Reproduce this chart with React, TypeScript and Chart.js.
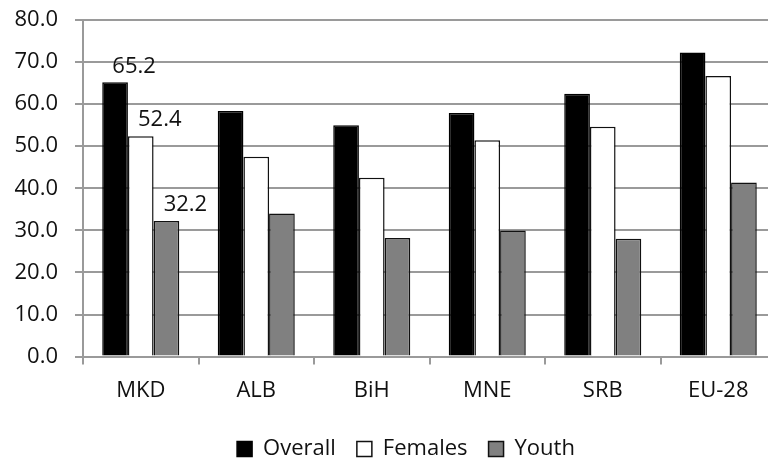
import React, { useEffect, useRef } from "react";
import { Chart, registerables } from "chart.js";

Chart.register(...registerables);

const categories = ["MKD", "ALB", "BiH", "MNE", "SRB", "EU-28"];
const overall = [65.2, 58.4, 55.0, 57.9, 62.5, 72.3];
const females = [52.4, 47.5, 42.5, 51.4, 54.6, 66.7];
const youth = [32.2, 34.0, 28.2, 30.0, 28.0, 41.4];
const seriesNames = ["Overall", "Females", "Youth"];
const yTicks = [0, 10, 20, 30, 40, 50, 60, 70, 80];
const annotatedCategory = 0;

const FONT = "'Open Sans', 'Noto Sans', sans-serif";

export default function App() {
  const ref = useRef<HTMLCanvasElement | null>(null);

  useEffect(() => {
    document.body.style.margin = "0";
    const canvas = ref.current;
    if (!canvas) return;

    const valueLabels = {
      id: "valueLabels",
      afterDatasetsDraw(chart: any) {
        const ctx = chart.ctx;
        ctx.save();
        ctx.font = `22px ${FONT}`;
        ctx.fillStyle = "#111";
        ctx.textAlign = "center";
        ctx.textBaseline = "middle";
        chart.data.datasets.forEach((ds: any, i: number) => {
          const meta = chart.getDatasetMeta(i);
          const el = meta.data[annotatedCategory];
          if (!el) return;
          const v = ds.data[annotatedCategory] as number;
          ctx.fillText(v.toFixed(1), el.x + 19, el.y - 16);
        });
        ctx.restore();
      },
    };

    const legendShift = {
      id: "legendShift",
      afterLayout(chart: any) {
        const lg = chart.legend;
        if (!lg) return;
        lg.left += 18;
        lg.right += 18;
      },
    };

    const chart = new Chart(canvas, {
      type: "bar",
      data: {
        labels: categories,
        datasets: [
          {
            label: seriesNames[0],
            data: overall,
            backgroundColor: "#000000",
            borderColor: "#000000",
            borderWidth: 1.5,
          },
          {
            label: seriesNames[1],
            data: females,
            backgroundColor: "#ffffff",
            borderColor: "#111111",
            borderWidth: 1.5,
          },
          {
            label: seriesNames[2],
            data: youth,
            backgroundColor: "#808080",
            borderColor: "#111111",
            borderWidth: 1.5,
          },
        ],
      },
      options: {
        responsive: false,
        animation: false,
        devicePixelRatio: 1,
        layout: { padding: { left: 0, top: 20, right: 35, bottom: -9 } },
        datasets: {
          bar: { categoryPercentage: 0.667, barPercentage: 1.0 },
        },
        scales: {
          x: {
            grid: {
              display: true,
              drawOnChartArea: false,
              offset: true,
              tickLength: 8,
              color: "#9a9a9a",
              lineWidth: 2,
            },
            border: { display: true, color: "#9a9a9a", width: 2 },
            ticks: {
              color: "#111",
              font: { family: FONT, size: 22 },
              padding: 13,
            },
          },
          y: {
            min: 0,
            max: 80,
            afterFit(scale: any) {
              scale.width = 83;
              scale.paddingTop = 0;
              scale.paddingBottom = 0;
            },
            afterBuildTicks(scale: any) {
              scale.ticks = yTicks.map((v) => ({ value: v }));
            },
            grid: {
              color: "#9a9a9a",
              lineWidth: 2,
              tickLength: 8,
            },
            border: { display: true, color: "#9a9a9a", width: 2 },
            ticks: {
              color: "#111",
              font: { family: FONT, size: 22 },
              padding: 17,
              callback: (v: any) => Number(v).toFixed(1),
            },
          },
        },
        plugins: {
          tooltip: { enabled: false },
          legend: {
            position: "bottom",
            labels: {
              color: "#111",
              font: { family: FONT, size: 22 },
              boxWidth: 15,
              boxHeight: 15,
              padding: 21,
            },
          },
        },
      },
      plugins: [valueLabels, legendShift],
    });

    return () => chart.destroy();
  }, []);

  return (
    <div style={{ width: 768, height: 461, overflow: "hidden", position: "relative", background: "#fff" }}>
      <canvas ref={ref} width={811} height={461} style={{ width: 811, height: 461, display: "block" }} />
    </div>
  );
}
